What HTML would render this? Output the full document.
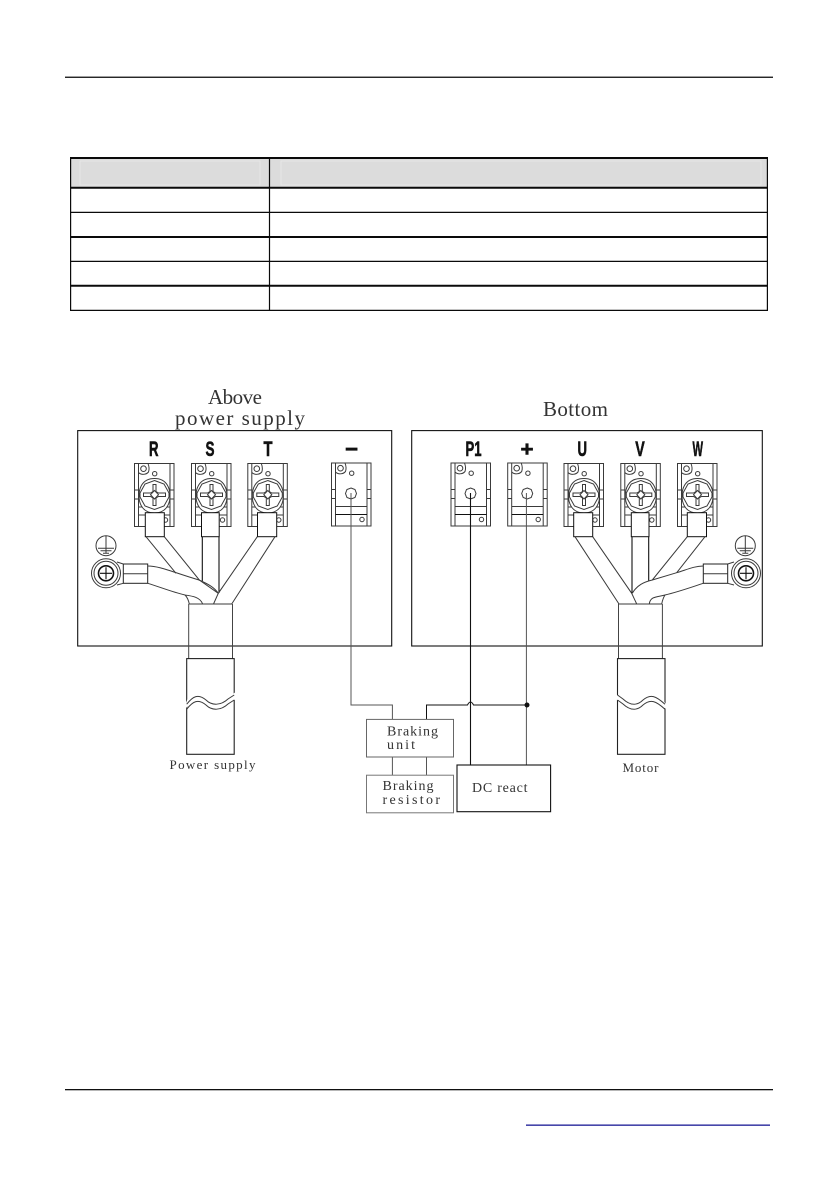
<!DOCTYPE html>
<html>
<head>
<meta charset="utf-8">
<style>
html,body{margin:0;padding:0;background:#fff;}
body{width:838px;height:1190px;overflow:hidden;}
svg{display:block;}
.l{fill:none;stroke:#3a3a3a;stroke-width:1;}
.d{fill:none;stroke:#111;stroke-width:1.1;}
.t{font-family:"Liberation Serif",serif;fill:#333;}
.b{font-family:"Liberation Sans",sans-serif;font-weight:bold;fill:#111;stroke:#111;stroke-width:.6;font-size:21px;}
</style>
</head>
<body>
<svg width="838" height="1190" viewBox="0 0 838 1190" xmlns="http://www.w3.org/2000/svg">
<defs>
  <g id="base">
    <rect class="l" x="0.5" y="0.5" width="39.5" height="63"/>
    <path class="l" d="M4.5 0.5V63.5M36 0.5V63.5"/>
    <circle class="l" cx="9.5" cy="5.7" r="2.8"/>
    <path class="l" d="M4.5 9.5C7 12 12 12 14.5 9C15.5 6 15 3 14 0.5"/>
    <circle class="l" cx="20.7" cy="10.7" r="2.2"/>
  </g>
  <g id="screwT">
    <use href="#base"/>
    <path class="l" d="M0.5 27H4.5M36 27H40M0.5 36H4.5M36 36H40M4.5 44H36M4.5 52H36"/>
    <circle cx="31.5" cy="57" r="2.2" class="l"/>
    <path d="M5.5 38C3.5 26 8 15.5 20.5 15.5C33 15.5 37.5 26 35.5 38C33.5 46 28 50 20.5 50C13 50 7.5 46 5.5 38Z" fill="#fff" stroke="#3a3a3a"/>
    <path class="l" d="M20.5 17.5L30 21L35 30V34L30 43L20.5 46.5L11 43L6 34V30L11 21Z"/>
    <path class="l" d="M19 21.5H22V28.5L24.5 30H31.5V33.5H24.5L22 35V42.5H19V35L16.5 33.5H9.5V30H16.5L19 28.5Z"/>
    <path class="l" d="M16.5 31.7L20.5 27.5L24.5 31.7L20.5 36Z"/>
  </g>
  <g id="plainT">
    <use href="#base"/>
    <path class="l" d="M0.5 27H4.5M36 27H40M0.5 36H4.5M36 36H40M4.5 44H36"/>
    <path class="d" d="M4.5 52H36"/>
    <circle class="l" cx="31" cy="57" r="2.2"/>
    <path class="l" d="M20 25.5L24 27L25.5 31L24 35L20 36.5L16 35L14.5 31L16 27Z"/>
  </g>
  <g id="gnd">
    <circle class="l" cx="0" cy="0" r="10"/>
    <path class="l" d="M0 -10V7M-8 2.5H8M-5.5 5H5.5M-3 7.5H3"/>
  </g>
  <g id="gscrew">
    <circle class="l" r="14.5"/>
    <circle class="l" r="12"/>
    <circle cx="0" cy="0" r="7.5" fill="none" stroke="#111" stroke-width="1.6"/>
    <path class="d" d="M0 -6V6M-6 0H6"/>
  </g>
  <rect id="cablebox" x="0" y="0" width="47.5" height="95.7" fill="#fff" stroke="#222" stroke-width="1.1"/>
</defs>

<!-- page rules -->
<rect x="65" y="76.6" width="708" height="1.3" fill="#111"/>
<rect x="65" y="1089" width="708" height="1.3" fill="#111"/>
<rect x="526" y="1124.5" width="244" height="1.3" fill="#1a1a96"/>

<!-- table -->
<rect x="71" y="158" width="696" height="29" fill="#dcdcdc"/>
<g fill="none" stroke="#e6e6e6">
  <rect x="80" y="161" width="180" height="24"/>
  <rect x="281" y="161" width="480" height="24"/>
</g>
<g fill="none" stroke="#0a0a0a">
  <path stroke-width="2" d="M70 158H768M70 187.8H768M70 237H768M70 285.8H768"/>
  <path stroke-width="1.2" d="M70 212.4H768M70 261.4H768M70 310.4H768"/>
  <path stroke-width="1.2" d="M70.6 157V311M269.5 157V311M767.4 157V311"/>
</g>

<!-- headings -->
<text class="t" x="208" y="404" font-size="21" textLength="54" lengthAdjust="spacing">Above</text>
<text class="t" x="175" y="425" font-size="21" textLength="130" lengthAdjust="spacing">power supply</text>
<text class="t" x="543" y="416" font-size="21" textLength="65" lengthAdjust="spacing">Bottom</text>

<!-- panels -->
<rect class="d" x="77.7" y="430.6" width="314" height="215.4"/>
<rect class="d" x="411.7" y="430.6" width="350.6" height="215.4"/>

<!-- terminal labels -->
<text class="b" x="149" y="456" textLength="9.5" lengthAdjust="spacingAndGlyphs">R</text>
<text class="b" x="205.5" y="456" textLength="9" lengthAdjust="spacingAndGlyphs">S</text>
<text class="b" x="263.5" y="456" textLength="9" lengthAdjust="spacingAndGlyphs">T</text>
<text class="b" x="345" y="456" textLength="13" lengthAdjust="spacingAndGlyphs">−</text>
<text class="b" x="465.5" y="456" textLength="16" lengthAdjust="spacingAndGlyphs">P1</text>
<text class="b" x="520.5" y="456" textLength="13" lengthAdjust="spacingAndGlyphs">+</text>
<text class="b" x="577.5" y="456" textLength="9.5" lengthAdjust="spacingAndGlyphs">U</text>
<text class="b" x="635.3" y="456" textLength="9.5" lengthAdjust="spacingAndGlyphs">V</text>
<text class="b" x="692.5" y="456" textLength="10.5" lengthAdjust="spacingAndGlyphs">W</text>

<!-- terminals -->
<use href="#screwT" x="134" y="463"/>
<use href="#screwT" x="191" y="463"/>
<use href="#screwT" x="247.3" y="463"/>
<use href="#plainT" x="331" y="462.5"/>
<use href="#plainT" x="450.5" y="462.5"/>
<use href="#plainT" x="507.2" y="462.5"/>
<use href="#screwT" x="563.5" y="463"/>
<use href="#screwT" x="620.3" y="463"/>
<use href="#screwT" x="677" y="463"/>

<!-- left wiring -->
<g>
  <rect x="145.3" y="512.7" width="19" height="24" fill="#fff" stroke="#111"/>
  <rect x="201.5" y="512.7" width="17.7" height="24" fill="#fff" stroke="#111"/>
  <rect x="257.5" y="512.7" width="19.2" height="24" fill="#fff" stroke="#111"/>
  <path class="l" d="M146 536.7L176 573.3M164.3 536.7L199.3 580L218.3 593.3"/>
  <path class="d" d="M202.3 536.7V581M219 536.7V593"/>
  <path class="l" d="M257.3 536.7L218.3 593.3L213.5 604M275 536.7L231.7 604"/>
  <rect x="123.3" y="564" width="24.4" height="19.3" fill="#fff" stroke="#222"/>
  <path class="l" d="M123.3 573.7H147.7"/>
  <path class="l" d="M147.7 566C160 566 172 572 199 580C208 584 214 587 218.3 593.3"/>
  <path class="l" d="M147.7 583.3C160 587 172 592 185 595C192 596 200 597 202.7 604M185 595C187 597 188.5 600 189.3 604"/>
  <path class="l" d="M117 562L123.3 564M117 585L123.3 583.3"/>
  <use href="#gnd" x="106" y="545.7"/>
  <use href="#gscrew" x="106" y="573.3"/>
  <path class="l" d="M188.7 604H232.3"/>
  <path d="M188.7 604V658.6M232.5 604V658.6" fill="none" stroke="#444" stroke-width="1"/>
  <use href="#cablebox" x="186.7" y="658.6"/>
  <path d="M185.5 704.2L187.5 699C194 692 199 694 206 701C212 706 221 705 228 698L235.5 692V699L228 705C221 711 212 712 206 707C199 700 194 699 187.5 706L185.5 709Z" fill="#fff" stroke="none"/>
  <path class="l" d="M186.7 704.2C193 696 198.5 693.5 206 700C212 706 221 705.5 228 699L234.2 695M186.7 709.2C193 701 198.5 698.5 206 705C212 711 221 710.5 228 704L234.2 700"/>
</g>

<!-- right wiring -->
<g>
  <rect x="573.7" y="512.7" width="19" height="24" fill="#fff" stroke="#111"/>
  <rect x="631.3" y="512.7" width="17.7" height="24" fill="#fff" stroke="#111"/>
  <rect x="687.3" y="512.7" width="19.2" height="24" fill="#fff" stroke="#111"/>
  <path class="l" d="M575 536.7L619 604M592.7 536.7L631.7 593.3L636.7 604"/>
  <path class="d" d="M632 536.7V593M648.7 536.7V581"/>
  <path class="l" d="M687.3 536.7L652.3 580M705 536.7L676.7 572.7"/>
  <rect x="703.3" y="564" width="24.4" height="19.3" fill="#fff" stroke="#222"/>
  <path class="l" d="M703.3 573.7H727.7"/>
  <path class="l" d="M703.3 566C694 566 686 570 676.7 572.7L652.3 580C644 582 637 585 632.3 593.3"/>
  <path class="l" d="M703.3 583.3C692 587 678 592 665 595C658 597 650 596 649.3 604M665 595C663 598 662.5 600 661.7 604"/>
  <path class="l" d="M727.7 564L734 562M727.7 583.3L734 585"/>
  <use href="#gnd" x="745.3" y="545.7"/>
  <use href="#gscrew" x="746" y="573.3"/>
  <path class="l" d="M618.3 604H662.3"/>
  <path d="M618.5 604V658.6M662.4 604V658.6" fill="none" stroke="#444" stroke-width="1"/>
  <use href="#cablebox" x="617.5" y="658.6"/>
  <path d="M616 694L623 700C630 705 637 706 643 701C650 694 655 692 662 699L666 704V709L662 706C655 699 650 699 643 706C637 711 630 711 623 705L616 699Z" fill="#fff" stroke="none"/>
  <path class="l" d="M617.5 695L623 699C630 705.5 637 706 643 700C650.5 693.5 656 696 665 704.2M617.5 700L623 704C630 710.5 637 711 643 705C650.5 698.5 656 701 665 709.2"/>
</g>

<!-- bottom wiring -->
<path d="M351 493V705H392.4V719.4" fill="none" stroke="#555" stroke-width="1"/>
<path d="M426.5 719.4V705H467.5Q470.5 699 473.5 705H527" fill="none" stroke="#111" stroke-width="1"/>
<path d="M470.5 493V765" fill="none" stroke="#111" stroke-width="1.1"/>
<path d="M526.4 493V765" fill="none" stroke="#555" stroke-width="1"/>
<circle cx="527" cy="705" r="2.5" fill="#111"/>
<path d="M392.4 757V775M426.5 757V775" fill="none" stroke="#555" stroke-width="1"/>

<rect x="366.5" y="719.4" width="87" height="37.6" fill="#fff" stroke="#666"/>
<rect x="366.5" y="775.2" width="87" height="37.6" fill="#fff" stroke="#777"/>
<rect x="457" y="765" width="93.6" height="46.7" fill="#fff" stroke="#111" stroke-width="1.1"/>

<!-- small labels -->
<text class="t" x="387" y="735.5" font-size="14" textLength="51" lengthAdjust="spacing">Braking</text>
<text class="t" x="387" y="749" font-size="14" textLength="28" lengthAdjust="spacing">unit</text>
<text class="t" x="382.5" y="790" font-size="14" textLength="51" lengthAdjust="spacing">Braking</text>
<text class="t" x="382.5" y="804" font-size="14" textLength="57.5" lengthAdjust="spacing">resistor</text>
<text class="t" x="472" y="792" font-size="14" textLength="55.5" lengthAdjust="spacing">DC react</text>
<text class="t" x="169.5" y="769" font-size="13" textLength="86" lengthAdjust="spacing">Power supply</text>
<text class="t" x="622.5" y="772" font-size="13" textLength="36" lengthAdjust="spacing">Motor</text>
</svg>
</body>
</html>
